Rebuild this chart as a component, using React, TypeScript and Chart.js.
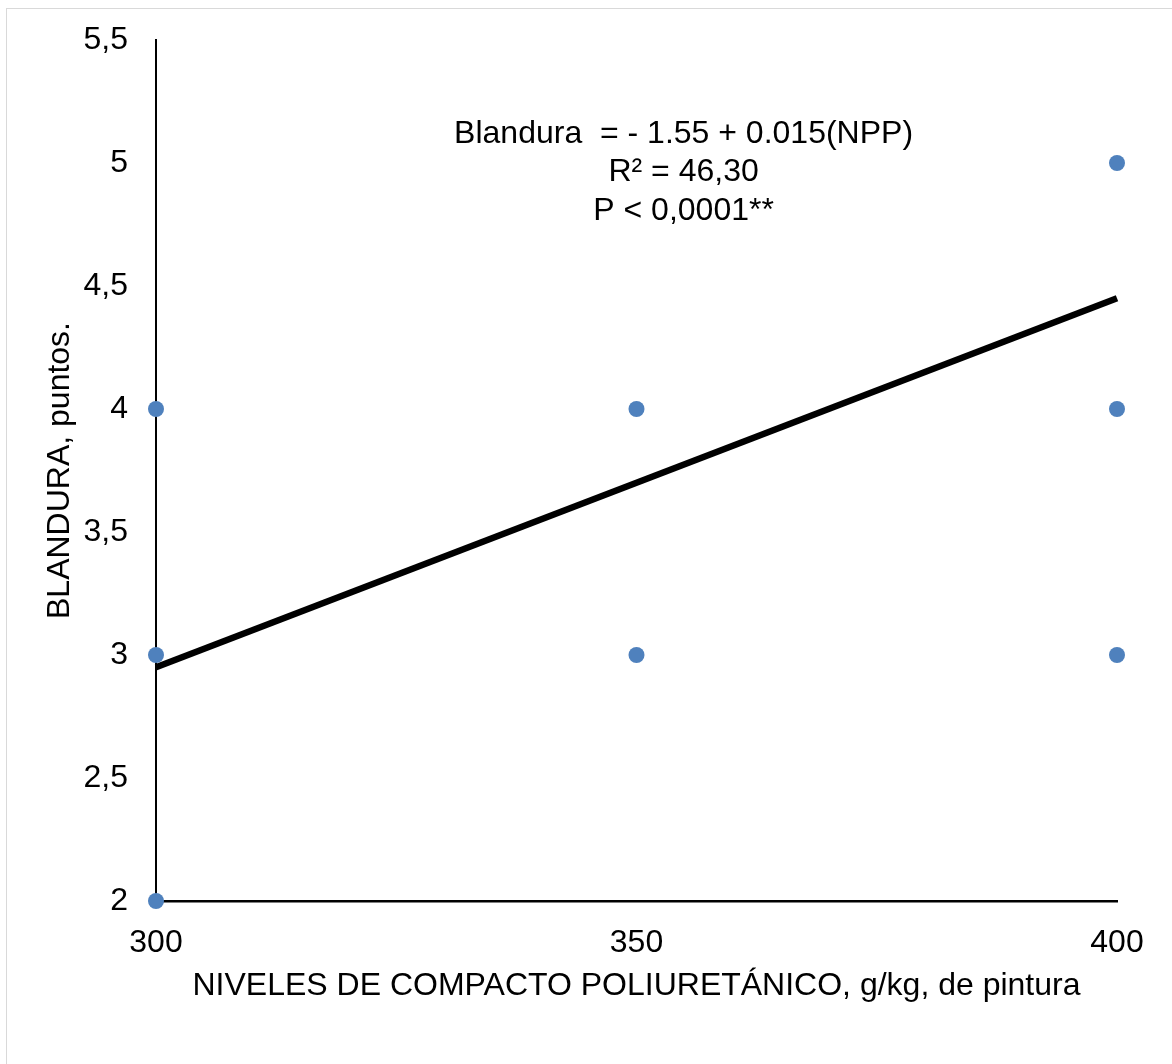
import React, { useEffect, useRef } from "react";
import { Chart, registerables } from "chart.js";

Chart.register(...registerables);

const pointX = [300, 300, 300, 350, 350, 400, 400, 400];
const pointY = [4, 3, 2, 4, 3, 5, 4, 3];
const trendX = [300, 400];
const trendY = [2.95, 4.45];
const yTickValues = [2, 2.5, 3, 3.5, 4, 4.5, 5, 5.5];
const yTickLabels = ["2", "2,5", "3", "3,5", "4", "4,5", "5", "5,5"];
const xTickValues = [300, 350, 400];
const xTickLabels = ["300", "350", "400"];
const annotationLines = ["Blandura  = - 1.55 + 0.015(NPP)", "R² = 46,30", "P < 0,0001**"];
const xTitle = "NIVELES DE COMPACTO POLIURETÁNICO, g/kg, de pintura";
const yTitle = "BLANDURA, puntos.";

const FONT = "'Liberation Sans', Arial, sans-serif";
const FS = 32;
const W = 1172;
const H = 1064;

export default function App() {
  const ref = useRef<HTMLCanvasElement | null>(null);
  useEffect(() => {
    if (!ref.current) return;
    const annotationPlugin = {
      id: "annot",
      afterDraw(chart: any) {
        const ctx = chart.ctx;
        const xs = chart.scales.x;
        const ys = chart.scales.y;
        ctx.save();
        ctx.font = `${FS}px ${FONT}`;
        ctx.fillStyle = "#000";
        ctx.textAlign = "center";
        ctx.textBaseline = "alphabetic";
        const cx = xs.getPixelForValue(354.9);
        const base = ys.getPixelForValue(5.083);
        annotationLines.forEach((t, i) => ctx.fillText(t, cx, base + i * 38.5));
        ctx.restore();
      },
    };
    const chart = new Chart(ref.current, {
      type: "scatter",
      data: {
        datasets: [
          {
            type: "line",
            data: trendX.map((x, i) => ({ x, y: trendY[i] })),
            borderColor: "#000",
            borderWidth: 6.5,
            pointRadius: 0,
            fill: false,
            borderCapStyle: "butt",
            clip: false,
            order: 2,
          } as any,
          {
            type: "scatter",
            data: pointX.map((x, i) => ({ x, y: pointY[i] })),
            backgroundColor: "#4F81BD",
            borderColor: "#4F81BD",
            borderWidth: 0,
            pointRadius: 8,
            clip: false,
            order: 1,
          },
        ],
      },
      options: {
        animation: false,
        responsive: false,
        maintainAspectRatio: false,
        layout: { autoPadding: false, padding: { top: 40, right: 55, left: 0, bottom: 0 } },
        plugins: { legend: { display: false }, tooltip: { enabled: false } },
        scales: {
          x: {
            type: "linear",
            min: 300,
            max: 400,
            afterFit: (s: any) => {
              s.height = H - 901;
              s.paddingLeft = 0;
              s.paddingRight = 0;
            },
            afterBuildTicks: (s: any) => {
              s.ticks = xTickValues.map((v) => ({ value: v }));
            },
            ticks: {
              color: "#000",
              font: { family: FONT, size: FS },
              padding: 23,
              maxRotation: 0,
              callback: (v: any) => xTickLabels[xTickValues.indexOf(Number(v))] ?? "",
            },
            grid: { display: false, drawTicks: false },
            border: { display: true, color: "#000", width: 2.5 },
            title: {
              display: true,
              text: xTitle,
              color: "#000",
              font: { family: FONT, size: FS },
              padding: { top: 0, bottom: 59 },
            },
          },
          y: {
            type: "linear",
            min: 2,
            max: 5.5,
            afterFit: (s: any) => {
              s.width = 156;
              s.paddingTop = 0;
              s.paddingBottom = 0;
            },
            afterBuildTicks: (s: any) => {
              s.ticks = yTickValues.map((v) => ({ value: v }));
            },
            ticks: {
              color: "#000",
              font: { family: FONT, size: FS },
              padding: 28,
              callback: (v: any) => yTickLabels[yTickValues.indexOf(Number(v))] ?? "",
            },
            grid: { display: false, drawTicks: false },
            border: { display: true, color: "#000", width: 2 },
            title: {
              display: true,
              text: yTitle,
              color: "#000",
              font: { family: FONT, size: FS },
              padding: { top: 41, bottom: 0 },
            },
          },
        },
      },
      plugins: [annotationPlugin],
    });
    return () => chart.destroy();
  }, []);

  return (
    <div
      style={{
        position: "fixed",
        left: 0,
        top: 0,
        width: W,
        height: H,
        overflow: "hidden",
        background: "#fff",
      }}
    >
      <div
        style={{
          position: "absolute",
          left: 6,
          top: 8,
          width: W + 40,
          height: H + 40,
          border: "1.5px solid #d9d9d9",
          boxSizing: "border-box",
        }}
      />
      <canvas
        ref={ref}
        width={W}
        height={H}
        style={{ position: "absolute", left: 0, top: 0, width: W, height: H }}
      />
    </div>
  );
}
